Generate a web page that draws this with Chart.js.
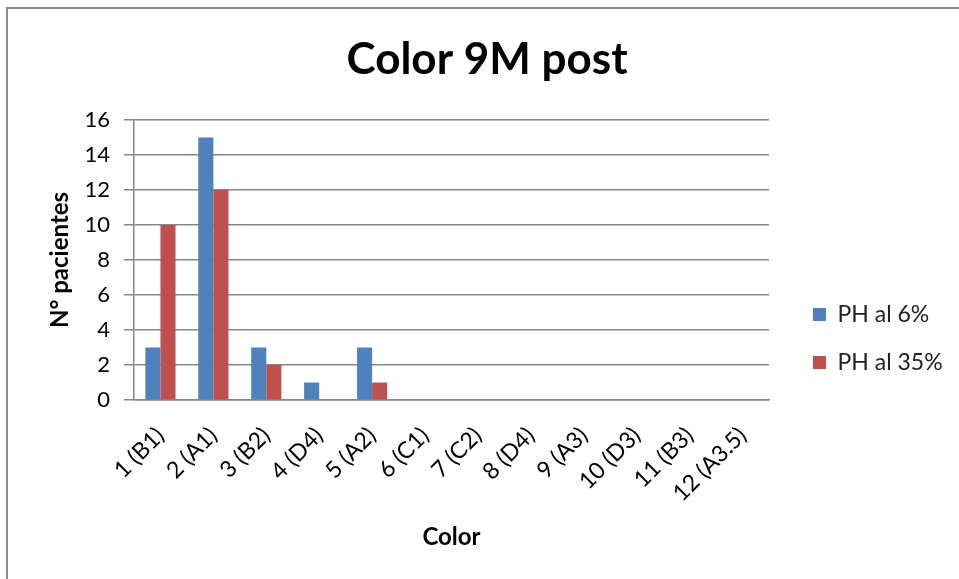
<!DOCTYPE html>
<html>
<head>
<meta charset="utf-8">
<script src="https://cdn.jsdelivr.net/npm/chart.js@4"></script>
<style>
  html, body { margin: 0; padding: 0; background: #fff; overflow: hidden; }
  #frame {
    position: absolute; left: 6px; top: 7px; width: 1000px; height: 600px;
    border-top: 2px solid #8c8c8c; border-left: 2px solid #8c8c8c;
  }
  #wrap { position: absolute; left: 7px; top: 8px; width: 960px; height: 571px; }
</style>
</head>
<body>
<div id="frame"></div>
<div id="wrap"><canvas id="chart" width="960" height="571"></canvas></div>
<script>
// ==================== DATOS ====================
const categorias = ['1 (B1)', '2 (A1)', '3 (B2)', '4 (D4)', '5 (A2)', '6 (C1)',
  '7 (C2)', '8 (D4)', '9 (A3)', '10 (D3)', '11 (B3)', '12 (A3.5)'];
const ph6 = [3, 15, 3, 1, 3, 0, 0, 0, 0, 0, 0, 0];
const ph35 = [10, 12, 2, 0, 1, 0, 0, 0, 0, 0, 0, 0];
const ticksY = [0, 2, 4, 6, 8, 10, 12, 14, 16];

// ==================== GRÁFICO ====================
const fuente = 'Lato, "Open Sans", sans-serif';
const gris = '#868686';

// recoloca leyenda y título después del layout, como en Excel
const recolocar = {
  id: 'recolocar',
  afterLayout(chart) {
    const l = chart.legend;
    l.left += 19; l.right += 60;
    l.top += 45; l.bottom += 45;
    const t = chart.titleBlock;
    t.left += 24; t.right += 24;
  }
};

new Chart(document.getElementById('chart'), {
  type: 'bar',
  data: {
    labels: categorias,
    datasets: [
      { label: 'PH al 6%', data: ph6, backgroundColor: '#4F81BD' },
      { label: 'PH al 35%', data: ph35, backgroundColor: '#C0504D' }
    ]
  },
  plugins: [recolocar],
  options: {
    responsive: false,
    animation: false,
    devicePixelRatio: 1,
    layout: { padding: { left: 0, right: 48, top: 0, bottom: 0 } },
    datasets: { bar: { categoryPercentage: 0.57, barPercentage: 1 } },
    plugins: {
      title: {
        display: true,
        text: 'Color 9M post',
        color: '#000',
        font: { family: fuente, size: 44, weight: 'bold' },
        padding: { top: 25.6, bottom: 33.6 }
      },
      legend: {
        position: 'right',
        maxWidth: 150,
        labels: {
          color: '#222',
          font: { family: fuente, size: 23 },
          boxWidth: 13,
          boxHeight: 13,
          padding: 25
        }
      },
      tooltip: { enabled: false }
    },
    scales: {
      x: {
        grid: { display: false, drawTicks: false },
        border: { color: gris, width: 1.5 },
        ticks: {
          color: '#000',
          font: { family: fuente, size: 23 },
          minRotation: 45,
          maxRotation: 45,
          padding: 22
        },
        title: {
          display: true,
          text: 'Color',
          color: '#000',
          font: { family: fuente, size: 24, weight: 'bold' },
          padding: { top: 0, bottom: 27.6 }
        },
        afterFit: s => { s.height = 179; }
      },
      y: {
        min: 0,
        max: 16,
        afterBuildTicks: s => { s.ticks = ticksY.map(v => ({ value: v })); },
        grid: { color: gris, lineWidth: 1.5, tickLength: 10 },
        border: { color: gris, width: 1.5 },
        ticks: {
          color: '#000',
          font: { family: fuente, size: 22 },
          padding: 14
        },
        title: {
          display: true,
          text: 'N° pacientes',
          color: '#000',
          font: { family: fuente, size: 24, weight: 'bold' },
          padding: { top: 38.6, bottom: 0 }
        },
        afterFit: s => { s.width = 127; }
      }
    }
  }
});
</script>
</body>
</html>
